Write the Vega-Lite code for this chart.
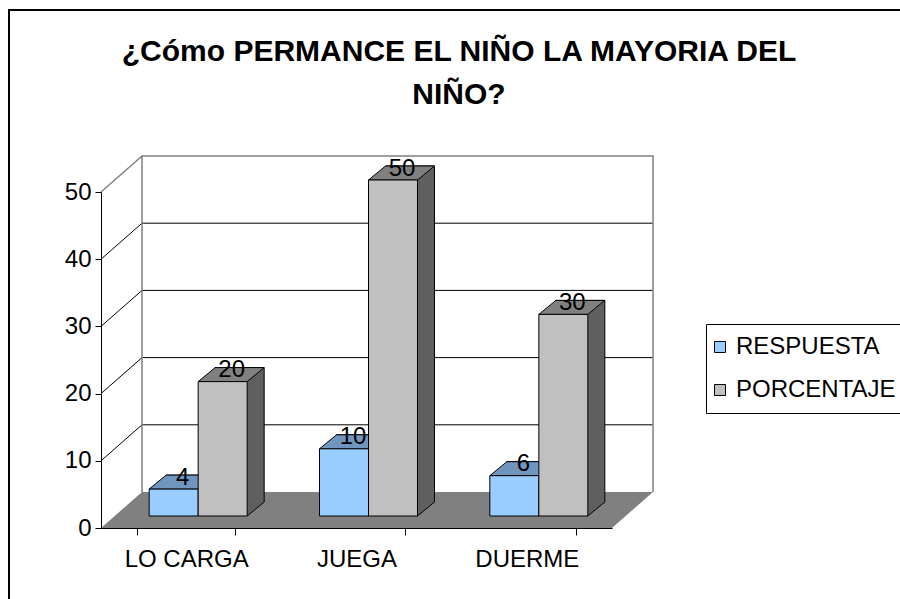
{
  "$schema": "https://vega.github.io/schema/vega-lite/v6.json",
  "width": 511,
  "height": 336,
  "autosize": {"type": "none"},
  "padding": {"left": 101, "top": 192, "right": 288, "bottom": 71},
  "background": "white",
  "config": {"view": {"stroke": null}, "font": "Liberation Sans"},
  "resolve": {"scale": {"x": "independent", "xOffset": "independent"}, "axis": {"x": "independent"}},
  "title": {
    "text": ["¿Cómo PERMANCE EL NIÑO LA MAYORIA DEL", "NIÑO?"],
    "font": "Liberation Sans",
    "fontSize": 30,
    "fontWeight": "bold",
    "lineHeight": 43,
    "color": "black",
    "anchor": "middle",
    "frame": "group",
    "baseline": "top",
    "offset": 0,
    "dx": 102.5,
    "dy": 104
  },
  "datasets": {
    "respuestas": [
      {"categoria": "LO CARGA", "serie": "RESPUESTA", "valor": 4},
      {"categoria": "LO CARGA", "serie": "PORCENTAJE", "valor": 20},
      {"categoria": "JUEGA", "serie": "RESPUESTA", "valor": 10},
      {"categoria": "JUEGA", "serie": "PORCENTAJE", "valor": 50},
      {"categoria": "DUERME", "serie": "RESPUESTA", "valor": 6},
      {"categoria": "DUERME", "serie": "PORCENTAJE", "valor": 30}
    ],
    "marco": [{"pieza": "marco"}],
    "rejilla": [{"v": 10}, {"v": 20}, {"v": 30}, {"v": 40}]
  },
  "layer": [
    {
      "data": {"name": "marco"},
      "mark": {"type": "point", "shape": "M-347.5,240L-347.5,-350L553.5,-350L553.5,240", "size": 4, "filled": false, "stroke": "black", "strokeWidth": 2, "opacity": 1},
      "encoding": {}
    },
    {
      "data": {"name": "marco"},
      "mark": {"type": "point", "shape": "M-255.5,0L255.5,0L296.5,-36L-214.5,-36Z", "size": 4, "filled": true, "fill": "#808080", "strokeWidth": 0, "opacity": 1},
      "encoding": {"y": {"datum": 0, "type": "quantitative", "scale": {"domain": [0, 50]}, "title": null}}
    },
    {
      "data": {"name": "rejilla"},
      "mark": {"type": "point", "shape": "M-255.5,0L-214.5,-36L296.5,-36", "size": 4, "filled": false, "stroke": "black", "strokeWidth": 1, "opacity": 1},
      "encoding": {"y": {"field": "v", "type": "quantitative", "title": null}}
    },
    {
      "data": {"name": "marco"},
      "mark": {"type": "point", "shape": "M-214.5,-36L-214.5,-372L296.5,-372L296.5,-36M-255.5,-336L-214.5,-372", "size": 4, "filled": false, "stroke": "#808080", "strokeWidth": 1.5, "opacity": 1},
      "encoding": {"y": {"datum": 0, "type": "quantitative", "title": null}}
    },
    {
      "data": {"name": "respuestas"},
      "mark": {"type": "bar", "yOffset": -26, "y2Offset": -26, "stroke": "black", "strokeWidth": 1},
      "encoding": {
        "x": {"field": "categoria", "type": "nominal", "sort": ["LO CARGA", "JUEGA", "DUERME"], "scale": {"range": [29, 540], "paddingInner": 0.4247, "paddingOuter": 0.21235}, "axis": null},
        "xOffset": {"field": "serie", "type": "nominal", "sort": ["RESPUESTA", "PORCENTAJE"]},
        "y": {"field": "valor", "type": "quantitative", "title": null},
        "fill": {"condition": {"test": "datum.serie === 'RESPUESTA'", "value": "#5a7fa6"}, "value": "#5f5f5f"}
      }
    },
    {
      "data": {"name": "respuestas"},
      "mark": {"type": "point", "shape": "M24.5,-12L41,-25.6L41,-27.2L24.5,-27.2Z", "size": 4, "filled": true, "strokeWidth": 0, "opacity": 1},
      "encoding": {
        "x": {"field": "categoria", "type": "nominal", "sort": ["LO CARGA", "JUEGA", "DUERME"], "scale": {"range": [12, 523], "paddingInner": 0.4247, "paddingOuter": 0.21235}, "axis": null},
        "xOffset": {"field": "serie", "type": "nominal", "sort": ["RESPUESTA", "PORCENTAJE"]},
        "y": {"datum": 0, "type": "quantitative", "title": null},
        "fill": {"condition": {"test": "datum.serie === 'RESPUESTA'", "value": "#5a7fa6"}, "value": "#5f5f5f"}
      }
    },
    {
      "data": {"name": "respuestas"},
      "mark": {"type": "point", "shape": "M24.5,-12L41.5,-26", "size": 4, "filled": false, "stroke": "black", "strokeWidth": 1, "opacity": 1},
      "encoding": {
        "x": {"field": "categoria", "type": "nominal", "sort": ["LO CARGA", "JUEGA", "DUERME"], "scale": {"range": [12, 523], "paddingInner": 0.4247, "paddingOuter": 0.21235}, "axis": null},
        "xOffset": {"field": "serie", "type": "nominal", "sort": ["RESPUESTA", "PORCENTAJE"]},
        "y": {"datum": 0, "type": "quantitative", "title": null}
      }
    },
    {
      "data": {"name": "respuestas"},
      "mark": {"type": "point", "shape": "M-24.5,-12L24.5,-12L41.5,-26L-7.5,-26Z", "size": 4, "filled": true, "stroke": "black", "strokeWidth": 1, "opacity": 1},
      "encoding": {
        "x": {"field": "categoria", "type": "nominal", "sort": ["LO CARGA", "JUEGA", "DUERME"], "scale": {"range": [12, 523], "paddingInner": 0.4247, "paddingOuter": 0.21235}, "axis": null},
        "xOffset": {"field": "serie", "type": "nominal", "sort": ["RESPUESTA", "PORCENTAJE"]},
        "y": {"field": "valor", "type": "quantitative", "title": null},
        "fill": {"condition": {"test": "datum.serie === 'RESPUESTA'", "value": "#7096c0"}, "value": "#808080"}
      }
    },
    {
      "data": {"name": "respuestas"},
      "mark": {"type": "bar", "yOffset": -12, "y2Offset": -12, "stroke": "black", "strokeWidth": 1},
      "encoding": {
        "x": {"field": "categoria", "type": "nominal", "sort": ["LO CARGA", "JUEGA", "DUERME"], "scale": {"range": [12, 523], "paddingInner": 0.4247, "paddingOuter": 0.21235}, "axis": null},
        "xOffset": {"field": "serie", "type": "nominal", "sort": ["RESPUESTA", "PORCENTAJE"]},
        "y": {"field": "valor", "type": "quantitative", "title": null},
        "color": {
          "field": "serie", "type": "nominal",
          "scale": {"domain": ["RESPUESTA", "PORCENTAJE"], "range": ["#99ccff", "#c0c0c0"]},
          "legend": {"orient": "none", "legendX": 605, "legendY": 132, "title": null, "strokeColor": "black", "fillColor": "white", "padding": 11, "symbolType": "square", "symbolSize": 121, "symbolOffset": -9, "symbolStrokeColor": "black", "symbolStrokeWidth": 1, "symbolOpacity": 1, "labelFontSize": 24, "labelFont": "Liberation Sans", "labelColor": "black", "rowPadding": 19, "labelOffset": 4}
        }
      }
    },
    {
      "data": {"name": "respuestas"},
      "mark": {"type": "text", "dx": 9, "dy": -16.5, "baseline": "alphabetic", "align": "center", "fontSize": 24, "font": "Liberation Sans", "color": "black"},
      "encoding": {
        "x": {"field": "categoria", "type": "nominal", "sort": ["LO CARGA", "JUEGA", "DUERME"], "scale": {"range": [12, 523], "paddingInner": 0.4247, "paddingOuter": 0.21235}, "axis": null},
        "xOffset": {"field": "serie", "type": "nominal", "sort": ["RESPUESTA", "PORCENTAJE"]},
        "y": {"field": "valor", "type": "quantitative", "title": null},
        "text": {"field": "valor", "type": "quantitative"}
      }
    },
    {
      "data": {"name": "respuestas"},
      "mark": {"type": "tick", "opacity": 0},
      "encoding": {
        "x": {
          "field": "categoria", "type": "nominal", "sort": ["LO CARGA", "JUEGA", "DUERME"],
          "scale": {"paddingInner": 0.4247, "paddingOuter": 0.21235},
          "axis": {"title": null, "labelAngle": 0, "labelFontSize": 24, "labelFont": "Liberation Sans", "labelColor": "black", "domainColor": "black", "tickColor": "black", "tickSize": 7, "tickBand": "extent", "labelPadding": 12, "zindex": 1}
        },
        "y": {
          "field": "valor", "type": "quantitative", "title": null,
          "axis": {"values": [0, 10, 20, 30, 40, 50], "grid": false, "labelFontSize": 24, "labelFont": "Liberation Sans", "labelColor": "black", "domainColor": "black", "tickColor": "black", "tickSize": 6, "labelPadding": 4, "zindex": 1}
        }
      }
    }
  ]
}
